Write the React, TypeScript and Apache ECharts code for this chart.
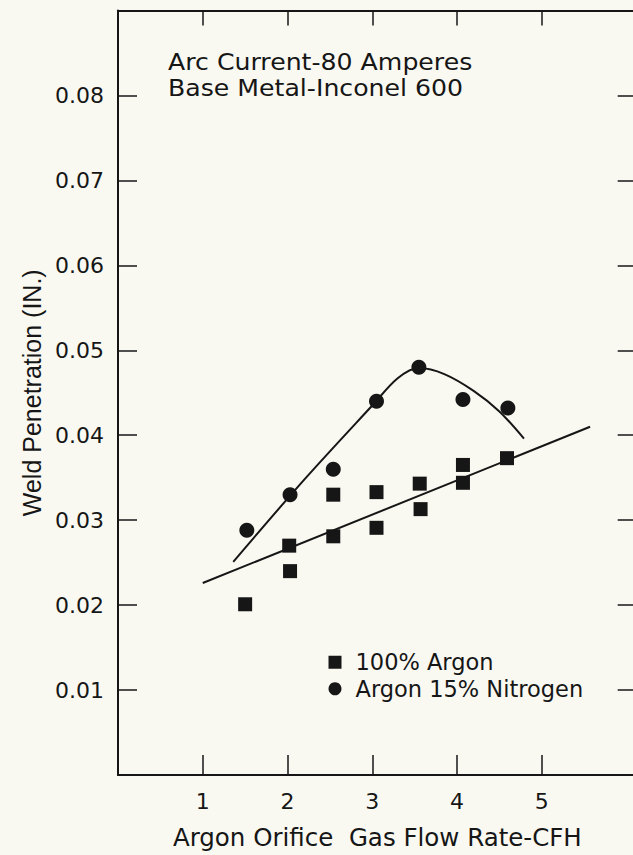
import React, { useEffect, useRef } from "react";
import * as echarts from "echarts";

const xTicks = [1, 2, 3, 4, 5];
const yTicks = [0.01, 0.02, 0.03, 0.04, 0.05, 0.06, 0.07, 0.08];

const argonPoints: [number, number][] = [
  [1.5, 0.0201],
  [2.03, 0.024],
  [2.02, 0.027],
  [2.54, 0.033],
  [2.54, 0.0281],
  [3.05, 0.0333],
  [3.05, 0.0291],
  [3.56, 0.0343],
  [3.57, 0.0313],
  [4.07, 0.0365],
  [4.07, 0.0344],
  [4.59, 0.0373],
];

const nitrogenPoints: [number, number][] = [
  [1.52, 0.0288],
  [2.03, 0.033],
  [2.54, 0.036],
  [3.05, 0.044],
  [3.55, 0.048],
  [4.07, 0.0442],
  [4.6, 0.0432],
];

const argonFit: [number, number][] = [
  [1.0, 0.0226],
  [5.57, 0.041],
];

const nitrogenCurve: [number, number][] = [
  [1.36, 0.0251],
  [2.2, 0.0348],
  [3.0, 0.0435],
  [3.3, 0.0467],
  [3.55, 0.0479],
  [3.85, 0.0472],
  [4.2, 0.0452],
  [4.5, 0.0428],
  [4.79, 0.0396],
];

const notes = ["Arc Current-80 Amperes", "Base Metal-Inconel 600"];
const seriesNames = ["100% Argon", "Argon 15% Nitrogen"];
const xTitle = "Argon Orifice  Gas Flow Rate-CFH";
const yTitle = "Weld Penetration (IN.)";

const INK = "#161616";
const BG = "#f9f9f2";
const FONT = "DejaVu Sans";

export default function App() {
  const ref = useRef<HTMLDivElement>(null);
  useEffect(() => {
    if (!ref.current) return;
    const chart = echarts.init(ref.current, undefined, { renderer: "svg" });
    const axisLine = { show: true, onZero: false, lineStyle: { color: INK, width: 2 } };
    const tickStyle = { color: INK, width: 1.5 };
    const option: any = {
      animation: false,
      backgroundColor: BG,
      textStyle: { fontFamily: FONT, color: INK },
      grid: { left: 118, top: 10.5, right: 8.3, bottom: 73.4, containLabel: false },
      xAxis: [
        {
          type: "value",
          position: "bottom",
          min: 0,
          max: 6.12,
          axisLine,
          splitLine: { show: false },
          axisTick: { show: true, inside: true, length: 20, customValues: xTicks, lineStyle: tickStyle },
          axisLabel: { show: true, customValues: xTicks, margin: 15, fontSize: 22, fontFamily: FONT, color: INK },
          name: xTitle,
          nameLocation: "middle",
          nameGap: 50,
          nameTextStyle: { fontSize: 24.5, fontFamily: FONT, color: INK },
        },
        {
          type: "value",
          position: "top",
          min: 0,
          max: 6.12,
          axisLine,
          splitLine: { show: false },
          axisTick: { show: true, inside: true, length: 15, customValues: xTicks, lineStyle: tickStyle },
          axisLabel: { show: false },
        },
      ],
      yAxis: [
        {
          type: "value",
          position: "left",
          min: 0,
          max: 0.09,
          interval: 0.01,
          axisLine,
          splitLine: { show: false },
          axisTick: { show: true, inside: true, length: 19, customValues: yTicks, lineStyle: tickStyle },
          axisLabel: {
            show: true,
            customValues: yTicks,
            margin: 14,
            fontSize: 22,
            fontFamily: FONT,
            color: INK,
            formatter: (v: number) => v.toFixed(2),
          },
          name: yTitle,
          nameLocation: "middle",
          nameRotate: 90,
          nameGap: 68,
          nameTextStyle: { fontSize: 25, fontFamily: "Liberation Sans", color: INK },
        },
        {
          type: "value",
          position: "right",
          min: 0,
          max: 0.09,
          interval: 0.01,
          axisLine,
          splitLine: { show: false },
          axisTick: { show: true, inside: true, length: 19, customValues: yTicks, lineStyle: tickStyle },
          axisLabel: { show: false },
        },
      ],
      legend: {
        data: seriesNames,
        orient: "vertical",
        left: 323.5,
        top: 644,
        itemWidth: 13,
        itemHeight: 13,
        itemGap: 0,
        selectedMode: false,
        textStyle: { fontSize: 22.5, fontFamily: FONT, color: INK, lineHeight: 26.5, padding: [0, 0, 0, 9] },
      },
      graphic: notes.map((t, i) => ({
        type: "text",
        x: 168,
        y: 62 + i * 26.5,
        scaleX: 1.12,
        style: { text: t, fontSize: 22.5, fontFamily: FONT, fill: INK, verticalAlign: "middle", align: "left" },
      })),
      series: [
        {
          type: "line",
          name: "argon fit",
          data: argonFit,
          showSymbol: false,
          silent: true,
          lineStyle: { color: INK, width: 2 },
        },
        {
          type: "line",
          name: "nitrogen fit",
          data: nitrogenCurve,
          smooth: 0.3,
          showSymbol: false,
          silent: true,
          lineStyle: { color: INK, width: 2 },
        },
        {
          type: "scatter",
          name: seriesNames[0],
          data: argonPoints,
          symbol: "rect",
          symbolSize: 14,
          itemStyle: { color: INK, opacity: 1 },
        },
        {
          type: "scatter",
          name: seriesNames[1],
          data: nitrogenPoints,
          symbol: "circle",
          symbolSize: 15,
          itemStyle: { color: INK, opacity: 1 },
        },
      ],
    };
    chart.setOption(option);
    return () => chart.dispose();
  }, []);
  return (
    <div
      ref={ref}
      style={{ position: "fixed", left: 0, top: 0, width: 645, height: 855, background: BG }}
    />
  );
}
